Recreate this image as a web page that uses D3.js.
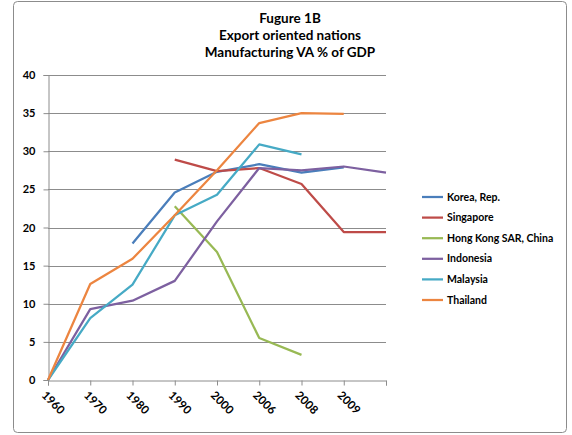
<!DOCTYPE html>
<html>
<head>
<meta charset="utf-8">
<script src="https://cdn.jsdelivr.net/npm/d3@7"></script>
<style>
  body { margin: 0; background: #fff; }
  text { font-family: Lato, "Open Sans", sans-serif; font-weight: bold; fill: #000; }
</style>
</head>
<body>
<div id="chart"></div>
<script>
let years = ["1960", "1970", "1980", "1990", "2000", "2006", "2008", "2009", ""];
let korea     = [null, null, 17.9, 24.6, 27.3, 28.3, 27.2, 27.9, null];
let singapore = [null, null, null, 28.9, 27.4, 27.8, 25.7, 19.4, 19.4];
let hongKong  = [null, null, null, 22.8, 16.8, 5.5, 3.3, null, null];
let indonesia = [0, 9.3, 10.4, 13.0, 20.8, 27.8, 27.5, 28.0, 27.2];
let malaysia  = [0, 8.1, 12.5, 21.6, 24.3, 30.9, 29.6, null, null];
let thailand  = [0, 12.6, 15.9, 21.6, 27.5, 33.7, 35.0, 34.9, null];
let yTicks = [0, 5, 10, 15, 20, 25, 30, 35, 40];
let titleLines = ["Fugure 1B", "Export oriented nations", "Manufacturing VA % of GDP"];

let series = [
  {name: "Korea, Rep.", values: korea, color: "#4A7EBB"},
  {name: "Singapore", values: singapore, color: "#BE4B48"},
  {name: "Hong Kong SAR, China", values: hongKong, color: "#98B954"},
  {name: "Indonesia", values: indonesia, color: "#7D60A0"},
  {name: "Malaysia", values: malaysia, color: "#46AAC5"},
  {name: "Thailand", values: thailand, color: "#EC8540"}
];

let W = 572, H = 435;
let margin = {top: 75, left: 48},
    width = 338,
    height = 305;

let svg = d3.select("#chart").append("svg")
  .attr("width", W).attr("height", H);

// chart frame
svg.append("rect")
  .attr("x", 13.5).attr("y", 1.5)
  .attr("width", 553).attr("height", 431)
  .attr("rx", 4)
  .attr("fill", "none").attr("stroke", "#8c8c8c").attr("stroke-width", 1);

// title
svg.selectAll(".title")
  .data(titleLines)
  .enter().append("text")
  .attr("class", "title")
  .attr("x", 290)
  .attr("y", function(d, i) { return 23 + i * 17; })
  .attr("text-anchor", "middle")
  .style("font-size", "13.5px")
  .text(function(d) { return d; });

let x = d3.scalePoint()
  .domain(d3.range(years.length))
  .range([0, width]);
let y = d3.scaleLinear()
  .domain([0, 40])
  .range([height, 0]);

let g = svg.append("g")
  .attr("transform", "translate(" + margin.left + "," + margin.top + ")");

// gridlines
g.append("g")
  .selectAll("line")
  .data(yTicks.slice(1))
  .enter().append("line")
  .attr("x1", 0).attr("x2", width)
  .attr("y1", function(d) { return Math.round(y(d)) + 0.5; })
  .attr("y2", function(d) { return Math.round(y(d)) + 0.5; })
  .attr("stroke", "#8c8c8c");

// y axis
let yAxis = g.append("g")
  .attr("transform", "translate(0.5,0)")
  .call(d3.axisLeft(y).tickValues(yTicks).tickSize(5).tickPadding(8));
yAxis.select(".domain").attr("stroke", "#8c8c8c");
yAxis.selectAll(".tick line").attr("stroke", "#8c8c8c");
yAxis.selectAll(".tick text").style("font-size", "11px").attr("fill", "#000");

// x axis
let xAxis = g.append("g")
  .attr("transform", "translate(0," + (height + 0.5) + ")")
  .call(d3.axisBottom(x).tickSize(5).tickFormat(function(i) { return years[i]; }));
xAxis.select(".domain").attr("stroke", "#8c8c8c");
xAxis.selectAll(".tick line").attr("stroke", "#8c8c8c");
xAxis.selectAll(".tick text")
  .style("font-size", "11.5px")
  .attr("fill", "#000")
  .attr("text-anchor", "start")
  .attr("dy", "0.35em")
  .attr("transform", "translate(1,7) rotate(45)");

// lines
let line = d3.line()
  .defined(function(d) { return d != null; })
  .x(function(d, i) { return x(i); })
  .y(function(d) { return y(d); });

g.selectAll(".series")
  .data(series)
  .enter().append("path")
  .attr("class", "series")
  .attr("fill", "none")
  .attr("stroke", function(d) { return d.color; })
  .attr("stroke-width", 2.25)
  .attr("stroke-linejoin", "round")
  .attr("d", function(d) { return line(d.values); });

// legend
let legend = svg.append("g")
  .selectAll("g")
  .data(series)
  .enter().append("g")
  .attr("transform", function(d, i) { return "translate(422," + (197 + i * 20.6) + ")"; });
legend.append("line")
  .attr("x1", 0).attr("x2", 21)
  .attr("stroke", function(d) { return d.color; })
  .attr("stroke-width", 2.25);
legend.append("text")
  .attr("x", 25)
  .attr("dy", "0.35em")
  .style("font-size", "10.5px")
  .text(function(d) { return d.name; });
</script>
</body>
</html>
